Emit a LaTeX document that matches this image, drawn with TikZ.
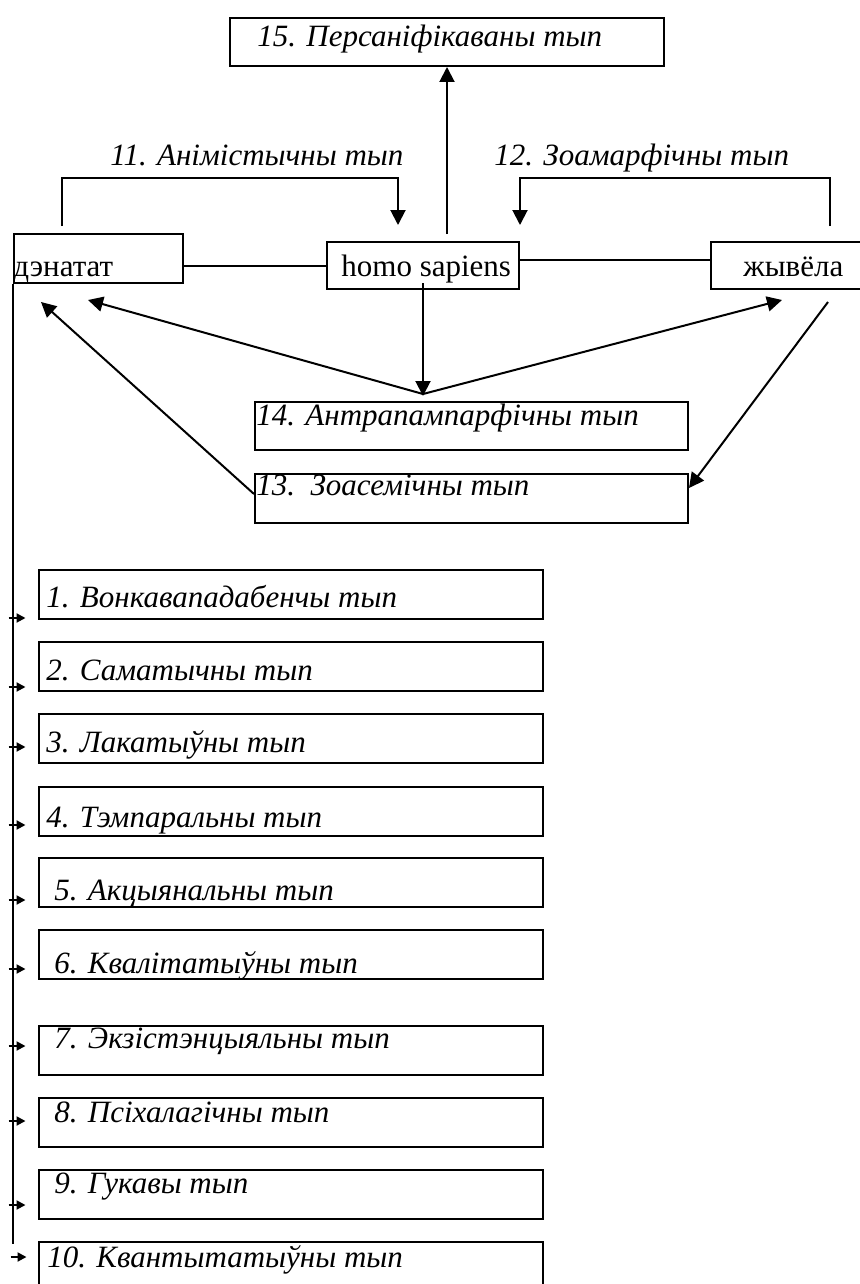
\documentclass[tikz,border=0pt]{standalone}
\usepackage{fontspec}
\setmainfont{Liberation Serif}
\usetikzlibrary{arrows.meta}
\tikzset{box/.style = {draw, rectangle, line width = 1pt, inner sep = 0, anchor = north west}}
\tikzset{lbl/.style = {inner sep = 0, anchor = base west, font = \fontsize{15.5}{18}\selectfont\itshape}}
\tikzset{word/.style = {inner sep = 0, anchor = base west, font = \fontsize{15.5}{18}\selectfont}}
\tikzset{arr/.style = {line width = 1pt, -{Triangle[length = 7.5pt, width = 7.5pt]}}}
\tikzset{tick/.style = {line width = 1pt, -{Triangle[length = 4.5pt, width = 4.5pt]}}}
\begin{document}
\begin{tikzpicture}[x = 0.5pt, y = -0.5pt]
            \useasboundingbox (0,0) rectangle (860,1284);
            % top part
            \node [box, minimum width = 217pt, minimum height = 24pt] (b15) at (229,17) {};
            \node [lbl] (t15) at (257,47) {15. Персаніфікаваны тып};
            \node [box, minimum width = 84.5pt, minimum height = 24.5pt] (den) at (13,233) {};
            \node [word] (dentxt) at (13,276) {дэнатат};
            \node [box, minimum width = 96pt, minimum height = 23.5pt] (homo) at (326,241) {};
            \node [word] (homotxt) at (341,276) {homo sapiens};
            \node [box, minimum width = 82pt, minimum height = 23.5pt] (zhyv) at (710,241) {};
            \node [word] (zhyvtxt) at (743,276) {жывёла};
            \node [lbl] (l11) at (110,165) {11. Анімістычны тып};
            \node [lbl] (l12) at (494,165) {12. Зоамарфічны тып};
            \node [box, minimum width = 216.5pt, minimum height = 24pt] (b14) at (254,401) {};
            \node [lbl] (t14) at (256,425) {14. Антрапампарфічны тып};
            \node [box, minimum width = 216.5pt, minimum height = 24.5pt] (b13) at (254,473) {};
            \node [lbl] (t13) at (256,495) {13.\ \ Зоасемічны тып};
            \coordinate (v) at ([yshift = 3.5pt]b14.north -| homo.south);

            \draw [line width = 1pt] (homo.west) -- (homo.west -| den.east);
            \draw [line width = 1pt] ([yshift = 3pt]homo.east) -- ([yshift = 3pt]homo.east -| zhyv.west);
            \draw [arr] ([xshift = 12pt, yshift = 3.5pt]homo.north) -- (b15.south);
            \draw [arr] ([xshift = 24.5pt, yshift = 3.5pt]den.north west) -- ++(0,-48) -| ([xshift = 36pt, yshift = 8pt]homo.north west);
            \draw [arr] ([xshift = 60pt, yshift = 7.5pt]zhyv.north west) -- ++(0,-48) -| ([yshift = 8pt]homo.north east);
            \draw [arr] ([yshift = 3.5pt]homo.south) -- ([yshift = 2.5pt]b14.north -| homo.south);
            \draw [arr] (v) -- ([xshift = 37.5pt, yshift = -8pt]den.south west);
            \draw [arr] (v) -- ([xshift = 36pt, yshift = -5pt]zhyv.south west);
            \draw [arr] ([xshift = 59pt, yshift = -6pt]zhyv.south west) -- ([yshift = 5.25pt]b13.east);
            \draw [arr] ([yshift = 2.25pt]b13.west) -- ([xshift = 14pt, yshift = -9pt]den.south west);

            % list of types
            \draw [line width = 1pt] (den.south west) -- ++(0,960);
            \node [box, minimum width = 252.25pt, minimum height = 24.5pt] (b1) at (37.5,569) {};
            \node [box, minimum width = 252.25pt, minimum height = 24.5pt] (b2) at (37.5,641) {};
            \node [box, minimum width = 252.25pt, minimum height = 24.5pt] (b3) at (37.5,713) {};
            \node [box, minimum width = 252.25pt, minimum height = 24.5pt] (b4) at (37.5,786) {};
            \node [box, minimum width = 252.25pt, minimum height = 24.5pt] (b5) at (37.5,857) {};
            \node [box, minimum width = 252.25pt, minimum height = 24.5pt] (b6) at (37.5,929) {};
            \node [box, minimum width = 252.25pt, minimum height = 24.5pt] (b7) at (37.5,1025) {};
            \node [box, minimum width = 252.25pt, minimum height = 24.5pt] (b8) at (37.5,1097) {};
            \node [box, minimum width = 252.25pt, minimum height = 24.5pt] (b9) at (37.5,1169) {};
            \node [box, minimum width = 252.25pt, minimum height = 24.5pt] (b10) at (37.5,1241) {};
            \node [lbl] (t1) at (46,607) {1. Вонкавападабенчы тып};
            \node [lbl] (t2) at (46,680) {2. Саматычны тып};
            \node [lbl] (t3) at (46,752) {3. Лакатыўны тып};
            \node [lbl] (t4) at (46,827) {4. Тэмпаральны тып};
            \node [lbl] (t5) at (54,900) {5. Акцыянальны тып};
            \node [lbl] (t6) at (54,973) {6. Квалітатыўны тып};
            \node [lbl] (t7) at (54,1048) {7. Экзістэнцыяльны тып};
            \node [lbl] (t8) at (54,1122) {8. Псіхалагічны тып};
            \node [lbl] (t9) at (54,1193) {9. Гукавы тып};
            \node [lbl] (t10) at (47,1267) {10. Квантытатыўны тып};
            \draw [tick] (b1.south west) ++(-29,-2) -- ++(17,0);
            \draw [tick] (b2.south west) ++(-29,-5) -- ++(17,0);
            \draw [tick] (b3.south west) ++(-29,-17) -- ++(17,0);
            \draw [tick] (b4.south west) ++(-29,-12) -- ++(17,0);
            \draw [tick] (b5.south west) ++(-29,-8) -- ++(17,0);
            \draw [tick] (b6.south west) ++(-29,-11) -- ++(17,0);
            \draw [tick] (b7.south west) ++(-29,-30) -- ++(17,0);
            \draw [tick] (b8.south west) ++(-29,-27) -- ++(17,0);
            \draw [tick] (b9.south west) ++(-29,-15) -- ++(17,0);
            \draw [tick] (b10.north west) ++(-27,16) -- ++(16,0);
        \end{tikzpicture}
\end{document}
